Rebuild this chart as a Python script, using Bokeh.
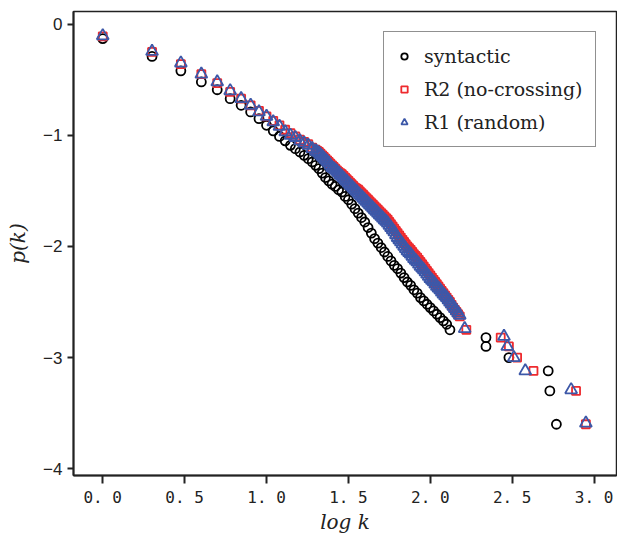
from bokeh.plotting import figure
from bokeh.models import Range1d, Legend, LegendItem, FixedTicker
from bokeh.embed import file_html
from bokeh.resources import INLINE

# ---- data (log k, log p(k)) ----
syn_x = [0.0, 0.301, 0.477, 0.602, 0.699, 0.778, 0.845, 0.903, 0.954, 1.0,
         1.041, 1.079, 1.114, 1.146, 1.176, 1.204, 1.230, 1.255, 1.279,
         1.30, 1.32, 1.34, 1.36, 1.38, 1.40, 1.42, 1.44, 1.46, 1.48,
         1.50, 1.52, 1.54, 1.56, 1.58, 1.60, 1.62, 1.64, 1.66, 1.68,
         1.70, 1.72, 1.74, 1.76, 1.78, 1.80, 1.82, 1.84, 1.86, 1.88,
         1.90, 1.92, 1.94, 1.96, 1.98, 2.00, 2.02, 2.04, 2.06, 2.08,
         2.10, 2.12,
         2.34, 2.34, 2.48, 2.72, 2.73, 2.77]
syn_y = [-0.13, -0.29, -0.42, -0.52, -0.59, -0.67, -0.73, -0.79, -0.85, -0.91,
         -0.96, -1.01, -1.05, -1.09, -1.12, -1.15, -1.18, -1.21, -1.24,
         -1.27, -1.30, -1.34, -1.38, -1.41, -1.44, -1.46, -1.49, -1.51, -1.55,
         -1.58, -1.62, -1.66, -1.70, -1.74, -1.78, -1.83, -1.88, -1.93, -1.97,
         -2.01, -2.05, -2.09, -2.13, -2.17, -2.20, -2.24, -2.28, -2.32, -2.35,
         -2.39, -2.42, -2.46, -2.49, -2.52, -2.55, -2.58, -2.61, -2.64, -2.67,
         -2.70, -2.75,
         -2.82, -2.90, -3.00, -3.12, -3.30, -3.60]

r2_x = [0.0, 0.301, 0.477, 0.602, 0.699, 0.778, 0.845, 0.903, 0.954, 1.0,
        1.041, 1.079, 1.114, 1.146, 1.176, 1.204, 1.230, 1.255, 1.279,
        1.30, 1.31, 1.32, 1.33, 1.34, 1.35, 1.36, 1.37, 1.38, 1.39,
        1.40, 1.41, 1.42, 1.43, 1.44, 1.45, 1.46, 1.47, 1.48, 1.49,
        1.50, 1.51, 1.52, 1.53, 1.54, 1.55, 1.56, 1.57, 1.58, 1.59,
        1.60, 1.61, 1.62, 1.63, 1.64, 1.65, 1.66, 1.67, 1.68, 1.69,
        1.70, 1.71, 1.72, 1.73, 1.74, 1.75, 1.76, 1.77, 1.78, 1.79,
        1.80, 1.81, 1.82, 1.83, 1.84, 1.85, 1.86, 1.87, 1.88, 1.89,
        1.90, 1.91, 1.92, 1.93, 1.94, 1.95, 1.96, 1.97, 1.98, 1.99,
        2.00, 2.01, 2.02, 2.03, 2.04, 2.05, 2.06, 2.07, 2.08, 2.09,
        2.10, 2.11, 2.12, 2.13, 2.14, 2.15, 2.16, 2.17, 2.18, 2.22,
        2.43, 2.48, 2.53, 2.63, 2.89, 2.95]
r2_y = [-0.11, -0.25, -0.36, -0.45, -0.53, -0.61, -0.67, -0.73, -0.78, -0.83,
        -0.87, -0.91, -0.95, -0.98, -1.01, -1.04, -1.06, -1.08, -1.11,
        -1.13, -1.14, -1.15, -1.165, -1.18, -1.195, -1.21, -1.225, -1.24, -1.255,
        -1.27, -1.285, -1.30, -1.315, -1.33, -1.34, -1.35, -1.365, -1.38, -1.395,
        -1.41, -1.425, -1.44, -1.455, -1.47, -1.48, -1.49, -1.505, -1.52, -1.535,
        -1.55, -1.565, -1.58, -1.595, -1.61, -1.625, -1.64, -1.655, -1.67, -1.685,
        -1.70, -1.715, -1.73, -1.745, -1.76, -1.78, -1.80, -1.82, -1.84, -1.86,
        -1.88, -1.90, -1.92, -1.94, -1.96, -1.98, -2.00, -2.015, -2.03, -2.05,
        -2.07, -2.085, -2.10, -2.12, -2.14, -2.16, -2.18, -2.20, -2.22, -2.24,
        -2.26, -2.28, -2.30, -2.32, -2.34, -2.36, -2.38, -2.40, -2.42, -2.44,
        -2.46, -2.48, -2.50, -2.525, -2.55, -2.57, -2.59, -2.61, -2.63, -2.75,
        -2.82, -2.90, -3.00, -3.12, -3.30, -3.60]

r1_x = [0.0, 0.301, 0.477, 0.602, 0.699, 0.778, 0.845, 0.903, 0.954, 1.0,
        1.041, 1.079, 1.114, 1.146, 1.176, 1.204, 1.230, 1.255, 1.279,
        1.30, 1.31, 1.32, 1.33, 1.34, 1.35, 1.36, 1.37, 1.38, 1.39,
        1.40, 1.41, 1.42, 1.43, 1.44, 1.45, 1.46, 1.47, 1.48, 1.49,
        1.50, 1.51, 1.52, 1.53, 1.54, 1.55, 1.56, 1.57, 1.58, 1.59,
        1.60, 1.61, 1.62, 1.63, 1.64, 1.65, 1.66, 1.67, 1.68, 1.69,
        1.70, 1.71, 1.72, 1.73, 1.74, 1.75, 1.76, 1.77, 1.78, 1.79,
        1.80, 1.81, 1.82, 1.83, 1.84, 1.85, 1.86, 1.87, 1.88, 1.89,
        1.90, 1.91, 1.92, 1.93, 1.94, 1.95, 1.96, 1.97, 1.98, 1.99,
        2.00, 2.01, 2.02, 2.03, 2.04, 2.05, 2.06, 2.07, 2.08, 2.09,
        2.10, 2.11, 2.12, 2.13, 2.14, 2.15, 2.16, 2.17, 2.18, 2.21,
        2.45, 2.47, 2.51, 2.58, 2.86, 2.95]
r1_y = [-0.105, -0.245, -0.35, -0.45, -0.52, -0.60, -0.67, -0.73, -0.79, -0.83,
        -0.88, -0.92, -0.97, -1.00, -1.02, -1.05, -1.07, -1.09, -1.12,
        -1.14, -1.15, -1.16, -1.175, -1.19, -1.205, -1.22, -1.235, -1.25, -1.27,
        -1.29, -1.30, -1.31, -1.325, -1.34, -1.355, -1.37, -1.385, -1.40, -1.415,
        -1.43, -1.445, -1.46, -1.475, -1.49, -1.505, -1.52, -1.535, -1.55, -1.565,
        -1.58, -1.595, -1.61, -1.625, -1.64, -1.655, -1.67, -1.685, -1.70, -1.715,
        -1.73, -1.745, -1.76, -1.775, -1.79, -1.81, -1.83, -1.85, -1.87, -1.895,
        -1.92, -1.94, -1.96, -1.98, -2.00, -2.02, -2.04, -2.055, -2.07, -2.09,
        -2.11, -2.125, -2.14, -2.16, -2.18, -2.195, -2.21, -2.23, -2.25, -2.27,
        -2.29, -2.305, -2.32, -2.34, -2.36, -2.375, -2.39, -2.41, -2.43, -2.445,
        -2.46, -2.48, -2.50, -2.52, -2.54, -2.56, -2.58, -2.60, -2.62, -2.74,
        -2.81, -2.90, -3.00, -3.12, -3.29, -3.59]

x_ticks = [0.0, 0.5, 1.0, 1.5, 2.0, 2.5, 3.0]
x_tick_labels = {0.0: "0. 0", 0.5: "0. 5", 1.0: "1. 0", 1.5: "1. 5",
                 2.0: "2. 0", 2.5: "2. 5", 3.0: "3. 0"}
y_ticks = [0, -1, -2, -3, -4]
y_tick_labels = {0: "0", -1: "\u22121", -2: "\u22122", -3: "\u22123", -4: "\u22124"}

RED = "#ee2a2e"
BLUE = "#3d58a8"

p = figure(width=617, height=536, output_backend="svg", toolbar_location=None,
           x_range=Range1d(-0.1786, 3.137), y_range=Range1d(-4.061, 0.114),
           min_border_left=73, min_border_right=1, min_border_top=11,
           min_border_bottom=20)

p.xgrid.visible = False
p.ygrid.visible = False
p.outline_line_color = "#222222"
p.outline_line_width = 1.5
p.background_fill_color = "white"
p.border_fill_color = "white"

r_syn = p.scatter(syn_x, syn_y, marker="circle", size=9, fill_color=None,
                  line_color="black", line_width=1.8)
r_r2 = p.scatter(r2_x, r2_y, marker="square", size=8, fill_color=None,
                 line_color=RED, line_width=1.8)
r_r1 = p.scatter(r1_x, r1_y, marker="triangle", size=12, fill_color=None,
                 line_color=BLUE, line_width=1.8)

# axes
p.xaxis.ticker = FixedTicker(ticks=x_ticks)
p.xaxis.major_label_overrides = x_tick_labels
p.yaxis.ticker = FixedTicker(ticks=y_ticks)
p.yaxis.major_label_overrides = y_tick_labels
for ax in (p.xaxis, p.yaxis):
    ax.axis_line_width = 2
    ax.axis_line_color = "#222222"
    ax.major_tick_line_width = 2
    ax.major_tick_line_color = "#222222"
    ax.minor_tick_line_color = None
    ax.major_tick_in = 0
    ax.major_label_text_color = "#222222"
    ax.axis_label_text_color = "#222222"
p.xaxis.major_tick_out = 8
p.yaxis.major_tick_out = 6
p.xaxis.major_label_text_font = "DejaVu Sans Mono"
p.xaxis.major_label_text_font_size = "16px"
p.xaxis.major_label_standoff = 4
p.yaxis.major_label_text_font = "Liberation Sans"
p.yaxis.major_label_text_font_size = "17px"
p.yaxis.major_label_standoff = 5

p.xaxis.axis_label = "log k"
p.yaxis.axis_label = "p(k)"
for ax in (p.xaxis, p.yaxis):
    ax.axis_label_text_font = "DejaVu Serif"
    ax.axis_label_text_font_style = "italic"
    ax.axis_label_text_font_size = "20px"
p.xaxis.axis_label_standoff = 0
p.yaxis.axis_label_standoff = 10

legend = Legend(items=[
    LegendItem(label="syntactic", renderers=[r_syn]),
    LegendItem(label="R2 (no-crossing)", renderers=[r_r2]),
    LegendItem(label="R1 (random)", renderers=[r_r1]),
], location=(310, 328))
legend.label_text_font = "DejaVu Serif"
legend.label_text_font_size = "19px"
legend.label_text_color = "#222222"
legend.border_line_color = "#222222"
legend.border_line_width = 1.5
legend.padding = 12
legend.spacing = 9
legend.margin = 0
legend.label_height = 24
legend.glyph_height = 24
legend.glyph_width = 16
legend.label_standoff = 12
legend.background_fill_alpha = 1.0
p.add_layout(legend, "center")

open("out.html", "w").write(file_html(p, INLINE))
